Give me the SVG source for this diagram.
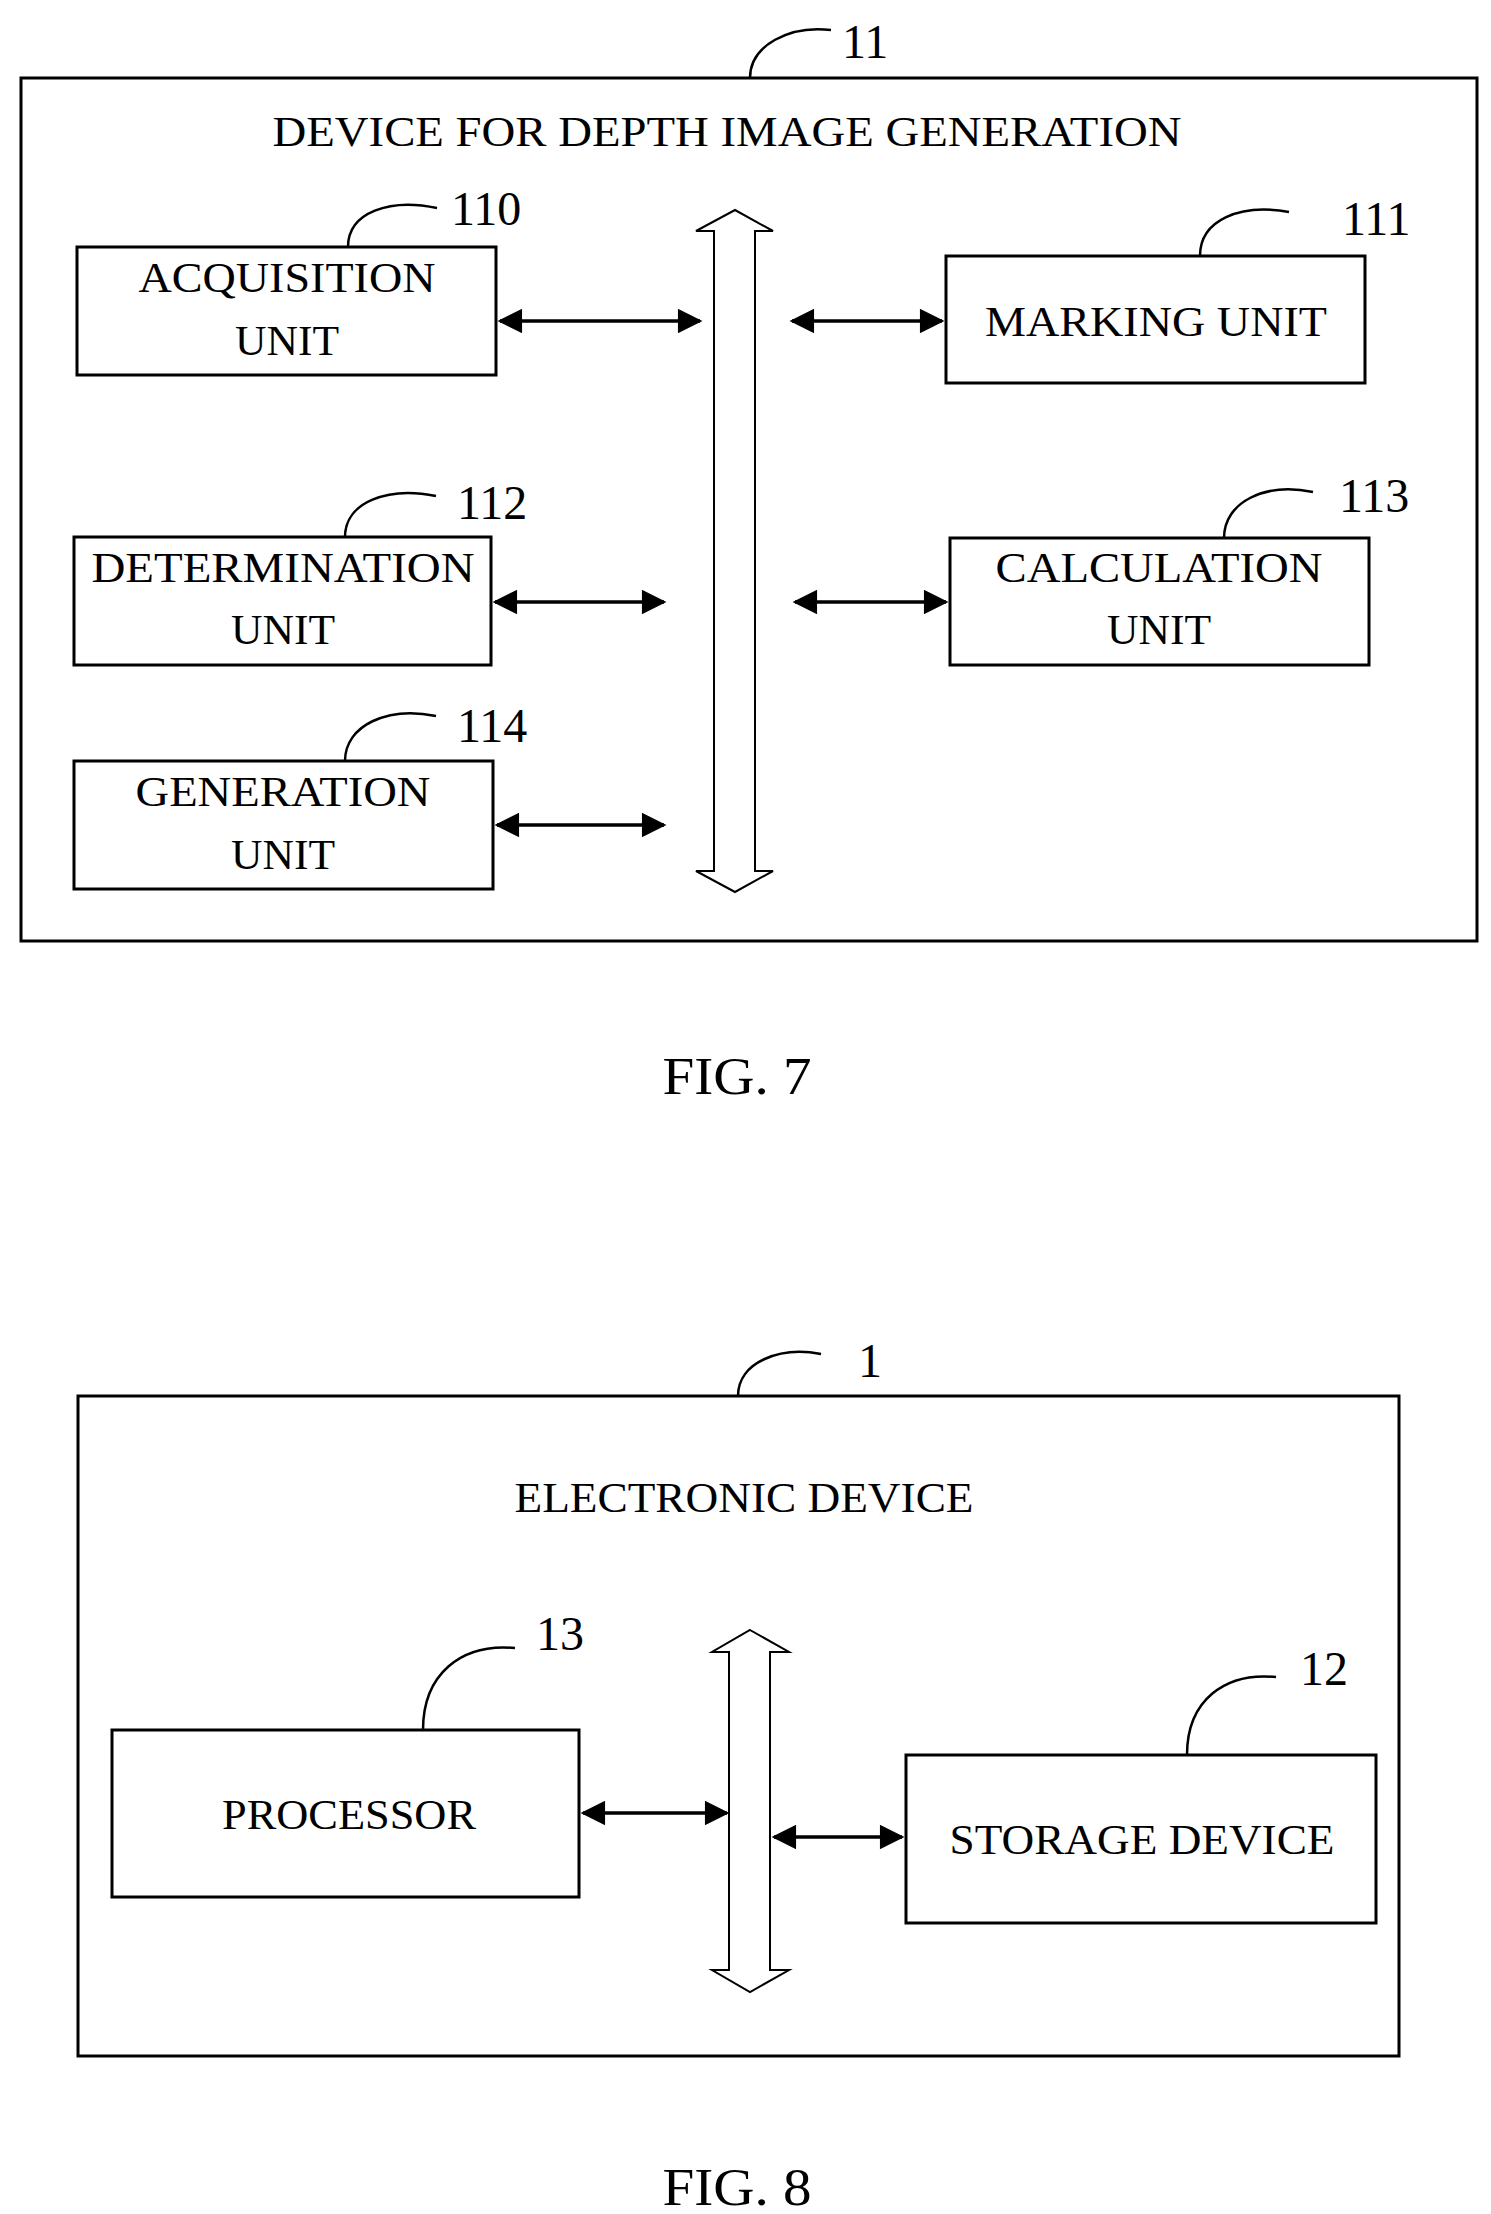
<svg xmlns="http://www.w3.org/2000/svg" width="1491" height="2214" viewBox="0 0 1491 2214">
<style>
rect{fill:none;stroke:#000;stroke-width:3}
.ld{fill:none;stroke:#000;stroke-width:2.5}
.ar{stroke:#000;stroke-width:3.5;fill:none;marker-start:url(#ah);marker-end:url(#ah)}
.bus{fill:#fff;stroke:#000;stroke-width:2}
text{font-family:"Liberation Serif","Times New Roman",serif;font-size:42px;text-anchor:middle;fill:#000}
.n{font-size:48px;text-anchor:start}
.f{font-size:52px}
</style>
<defs>
<marker id="ah" viewBox="0 0 10 10" refX="9" refY="5" markerWidth="8.5" markerHeight="7" orient="auto-start-reverse" markerUnits="strokeWidth"><path d="M0,0L10,5L0,10z" fill="#000"/></marker>
</defs>
<g id="fig7">
<rect x="21" y="78" width="1456" height="863"/>
<path class="ld" d="M750,78C750,45 790,25 831,30"/>
<text class="n" x="842" y="58">11</text>
<text x="727" y="146" textLength="909" lengthAdjust="spacingAndGlyphs">DEVICE FOR DEPTH IMAGE GENERATION</text>
</g>
<g id="acq">
<rect x="77" y="247" width="419" height="128"/>
<text x="287" y="292" textLength="297" lengthAdjust="spacingAndGlyphs">ACQUISITION</text>
<text x="287" y="355" textLength="104" lengthAdjust="spacingAndGlyphs">UNIT</text>
<path class="ld" d="M348,247C348,212 390,198 437,208"/>
<text class="n" x="451" y="225">110</text>
</g>
<g id="mark">
<rect x="946" y="256" width="419" height="127"/>
<text x="1156" y="336" textLength="342" lengthAdjust="spacingAndGlyphs">MARKING UNIT</text>
<path class="ld" d="M1200,256C1200,220 1240,203 1289,212"/>
<text class="n" x="1342" y="235">111</text>
</g>
<g id="det">
<rect x="74" y="537" width="417" height="128"/>
<text x="283" y="582" textLength="383" lengthAdjust="spacingAndGlyphs">DETERMINATION</text>
<text x="283" y="644" textLength="104" lengthAdjust="spacingAndGlyphs">UNIT</text>
<path class="ld" d="M345,537C345,502 388,486 436,496"/>
<text class="n" x="457" y="519">112</text>
</g>
<g id="calc">
<rect x="950" y="538" width="419" height="127"/>
<text x="1159" y="582" textLength="327" lengthAdjust="spacingAndGlyphs">CALCULATION</text>
<text x="1159" y="644" textLength="104" lengthAdjust="spacingAndGlyphs">UNIT</text>
<path class="ld" d="M1224,538C1224,502 1265,482 1313,492"/>
<text class="n" x="1339" y="512">113</text>
</g>
<g id="gen">
<rect x="74" y="761" width="419" height="128"/>
<text x="283" y="806" textLength="295" lengthAdjust="spacingAndGlyphs">GENERATION</text>
<text x="283" y="869" textLength="104" lengthAdjust="spacingAndGlyphs">UNIT</text>
<path class="ld" d="M345,761C345,725 388,706 436,716"/>
<text class="n" x="457" y="742">114</text>
</g>
<g id="bus7">
<path class="bus" d="M735,210L773,231L755,231L755,871L773,871L735,892L696,871L714,871L714,231L696,231Z"/>
</g>
<text class="f" x="737" y="1094" textLength="149" lengthAdjust="spacingAndGlyphs">FIG. 7</text>
<g id="fig8">
<rect x="78" y="1396" width="1321" height="660"/>
<path class="ld" d="M738,1396C738,1362 780,1346 821,1354"/>
<text class="n" x="858" y="1377">1</text>
<text x="744" y="1512" textLength="459" lengthAdjust="spacingAndGlyphs">ELECTRONIC DEVICE</text>
</g>
<g id="proc">
<rect x="112" y="1730" width="467" height="167"/>
<text x="349" y="1829" textLength="254" lengthAdjust="spacingAndGlyphs">PROCESSOR</text>
<path class="ld" d="M423,1730C423,1675 460,1643 515,1648"/>
<text class="n" x="536" y="1650">13</text>
</g>
<g id="stor">
<rect x="906" y="1755" width="470" height="168"/>
<text x="1142" y="1854" textLength="385" lengthAdjust="spacingAndGlyphs">STORAGE DEVICE</text>
<path class="ld" d="M1187,1755C1187,1700 1225,1672 1276,1677"/>
<text class="n" x="1300" y="1685">12</text>
</g>
<g id="bus8">
<path class="bus" d="M750,1630L789,1652L770,1652L770,1970L789,1970L750,1992L712,1970L729,1970L729,1652L712,1652Z"/>
</g>
<text class="f" x="737" y="2205" textLength="149" lengthAdjust="spacingAndGlyphs">FIG. 8</text>
<g id="connectors">
<line class="ar" x1="500" y1="321" x2="700" y2="321"/>
<line class="ar" x1="792" y1="321" x2="942" y2="321"/>
<line class="ar" x1="495" y1="602" x2="664" y2="602"/>
<line class="ar" x1="795" y1="602" x2="946" y2="602"/>
<line class="ar" x1="497" y1="825" x2="664" y2="825"/>
<line class="ar" x1="583" y1="1813" x2="727" y2="1813"/>
<line class="ar" x1="774" y1="1837" x2="902" y2="1837"/>
</g>
</svg>
